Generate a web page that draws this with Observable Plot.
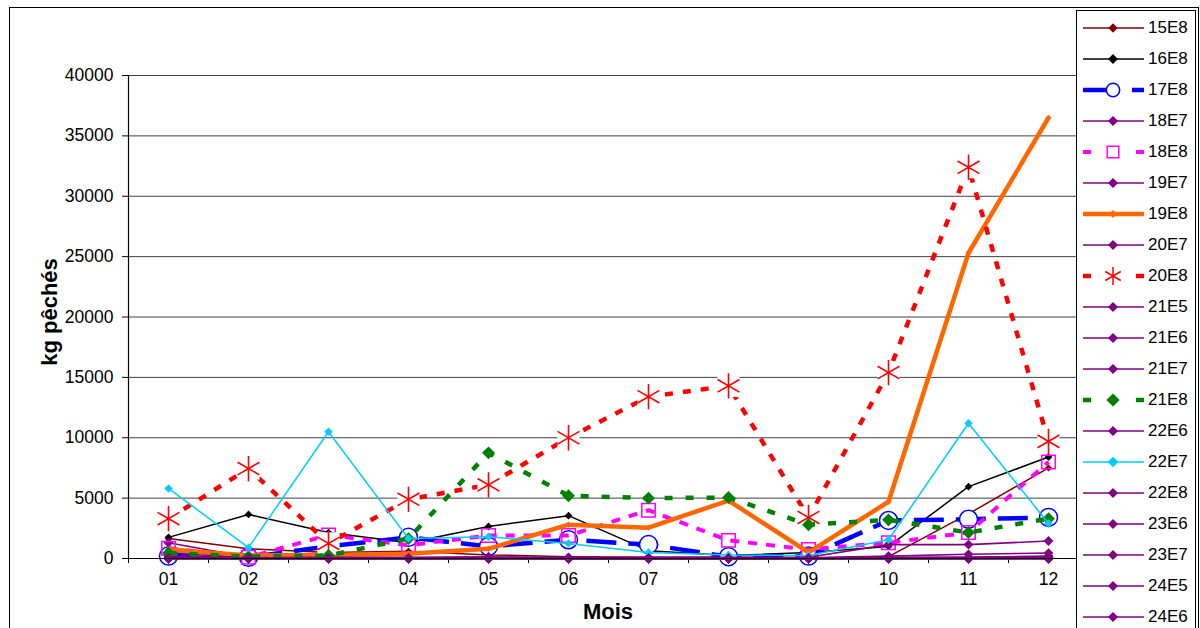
<!DOCTYPE html>
<html>
<head>
<meta charset="utf-8">
<script src="https://cdn.jsdelivr.net/npm/d3@7"></script>
<script src="https://cdn.jsdelivr.net/npm/@observablehq/plot@0.6"></script>
<style>
  body { margin: 0; background: #fff; }
  #wrap { position: relative; width: 1200px; height: 628px; overflow: hidden; background: #fff; font-family: "Liberation Sans", Arial, sans-serif; }
  #plot { position: absolute; left: 0; top: 0; }
  #frame { position: absolute; left: 9px; top: 7px; width: 1188px; height: 700px; border: 1px solid #000; pointer-events: none; }
  #legend { position: absolute; left: 1076px; top: 10px; width: 118px; height: 700px; border: 1px solid #000; background: #fff; }
  .lg-row { position: absolute; left: 0; height: 20px; width: 118px; }
  .lg-row svg { position: absolute; left: 0; top: 0; }
  .lg-row span { position: absolute; left: 71px; top: 0; font-size: 17px; line-height: 20px; color: #000; }
  #ylab { position: absolute; left: 50px; top: 312px; transform: translate(-50%, -50%) rotate(-90deg); font-size: 22px; font-weight: bold; white-space: nowrap; }
  #xlab { position: absolute; left: 608px; top: 612px; transform: translate(-50%, -50%); font-size: 22px; font-weight: bold; }
</style>
</head>
<body>
<div id="wrap">
  <div id="plot"></div>
  <div id="frame"></div>
  <div id="ylab">kg pêchés</div>
  <div id="xlab">Mois</div>
  <div id="legend"></div>
</div>
<script>
// ---- categories and tick labels ----
const months = ["01","02","03","04","05","06","07","08","09","10","11","12"];
const yTicks = [0, 5000, 10000, 15000, 20000, 25000, 30000, 35000, 40000];

// ---- series values (kg pêchés per month) ----
const s15E8 = [1650, 800, 500, 600, 300, 150, 100, 100, 50, 150, 3700, 7500];
const s16E8 = [1750, 3650, 2150, 1300, 2650, 3550, 650, 250, 500, 1000, 5950, 8400];
const s17E8 = [200, 100, 1000, 1750, 1000, 1550, 1150, 150, 200, 3150, 3250, 3400];
const s18E7 = [1300, 100, 50, 50, 150, 0, 0, 0, 0, 100, 100, 150];
const s18E8 = [850, 100, 1950, 1100, 1900, 1900, 4000, 1500, 750, 1300, 2150, 8000];
const s19E7 = [200, 100, 100, 100, 100, 100, 100, 100, 100, 1150, 1150, 1450];
const s19E8 = [750, 250, 300, 400, 800, 2800, 2550, 4800, 500, 4700, 25300, 36500];
const s20E7 = [100, 50, 100, 50, 50, 0, 0, 0, 50, 200, 350, 450];
const s20E8 = [3300, 7450, 1250, 4900, 6100, 10000, 13400, 14300, 3400, 15400, 32400, 9700];
const s21E5 = [0, 0, 0, 0, 0, 0, 0, 0, 0, 0, 0, 0];
const s21E6 = [500, 0, 0, 0, 0, 0, 0, 0, 0, 0, 50, 100];
const s21E7 = [50, 0, 0, 0, 0, 0, 0, 0, 0, 0, 0, 50];
const s21E8 = [450, 150, 250, 1650, 8750, 5200, 5000, 5050, 2800, 3200, 2150, 3300];
const s22E6 = [0, 0, 0, 0, 0, 0, 0, 0, 0, 0, 0, 0];
const s22E7 = [5800, 900, 10500, 1650, 1800, 1250, 500, 300, 250, 1550, 11200, 2900];
const s22E8 = [0, 0, 0, 0, 0, 0, 0, 0, 0, 50, 100, 200];
const s23E6 = [0, 0, 0, 0, 0, 0, 0, 0, 0, 0, 0, 0];
const s23E7 = [0, 0, 0, 0, 0, 0, 0, 0, 0, 0, 0, 0];
const s24E5 = [0, 0, 0, 0, 0, 0, 0, 0, 0, 0, 0, 0];
const s24E6 = [0, 0, 0, 0, 0, 0, 0, 0, 0, 0, 0, 0];

// ---- series styling table built from the arrays above ----
const PURPLE = "#800080";
const purple = (name, values) => ({name, values, color: PURPLE, width: 1.6, dash: null, symbol: "diamond2", r: 4.4, fill: PURPLE, stroke: "none"});
const series = [
  {name: "15E8", values: s15E8, color: "#800000", width: 1.5, dash: null, symbol: "diamond2", r: 3.3, fill: "#800000", stroke: "none"},
  {name: "16E8", values: s16E8, color: "#000000", width: 1.5, dash: null, symbol: "diamond2", r: 3.5, fill: "#000000", stroke: "none"},
  {name: "17E8", values: s17E8, color: "#0000FF", width: 4.5, dash: "30 12", legendDash: "30 19 12", symbol: "circle", r: 9, fill: "#ffffff", stroke: "#0000FF"},
  purple("18E7", s18E7),
  {name: "18E8", values: s18E8, color: "#FF00FF", width: 4, dash: "9 9", legendDash: "8 45 8", symbol: "square", r: 7.6, fill: "none", stroke: "#FF00FF"},
  purple("19E7", s19E7),
  {name: "19E8", values: s19E8, color: "#FF6600", width: 4.5, dash: null, symbol: "diamond2", r: 2.8, fill: "#FF6600", stroke: "none"},
  purple("20E7", s20E7),
  {name: "20E8", values: s20E8, color: "#FF0000", width: 4.5, dash: "8 10", legendDash: "8 45 8", symbol: "asterisk", r: 12, fill: "none", stroke: "#FF0000", halo: true},
  purple("21E5", s21E5),
  purple("21E6", s21E6),
  purple("21E7", s21E7),
  {name: "21E8", values: s21E8, color: "#008000", width: 4.5, dash: "8 13", legendDash: "8 45 8", symbol: "diamond2", r: 5.8, fill: "#008000", stroke: "none"},
  purple("22E6", s22E6),
  {name: "22E7", values: s22E7, color: "#00CCFF", width: 1.5, dash: null, symbol: "diamond2", r: 3.8, fill: "#00CCFF", stroke: "none"},
  purple("22E8", s22E8),
  purple("23E6", s23E6),
  purple("23E7", s23E7),
  purple("24E5", s24E5),
  purple("24E6", s24E6)
];

const rowsOf = s => s.values.map((v, i) => ({m: i + 1, v, s: s.name}));

const marks = [
  Plot.ruleY(yTicks.filter(d => d > 0), {stroke: "#000", strokeWidth: 1, strokeOpacity: 0.75}),
  Plot.axisY({ticks: yTicks, tickFormat: d => String(d), tickSize: 6, tickPadding: 9, label: null, stroke: "#000"}),
  Plot.axisX({ticks: d3.range(0.5, 12, 1), tickFormat: () => "", tickSize: 5, label: null, stroke: "#000"}),
  Plot.axisX({ticks: d3.range(1, 13), tickFormat: i => months[i - 1], tickSize: 0, tickPadding: 14, label: null})
];
for (const s of series) {
  const rows = rowsOf(s);
  marks.push(Plot.line(rows, {x: "m", y: "v", stroke: s.color, strokeWidth: s.width, strokeDasharray: s.dash, strokeLinejoin: "round", strokeLinecap: "butt"}));
  if (s.halo) marks.push(Plot.dot(rows, {x: "m", y: "v", symbol: "square", r: 12.5, fill: "#ffffff", stroke: "none"}));
  marks.push(Plot.dot(rows, {x: "m", y: "v", symbol: s.symbol, r: s.r, fill: s.fill, stroke: s.stroke, strokeWidth: s.symbol === "asterisk" ? 1.6 : 1.5}));
}
marks.push(Plot.ruleY([0], {stroke: "#000", strokeWidth: 1.2}));
marks.push(Plot.ruleX([0.5], {y1: 0, y2: 40000, stroke: "#000", strokeWidth: 1.2}));

const chart = Plot.plot({
  width: 1200,
  height: 628,
  marginLeft: 128,
  marginRight: 112,
  marginTop: 75,
  marginBottom: 70,
  x: {type: "linear", domain: [0.5, 12.5]},
  y: {domain: [0, 40000]},
  style: {fontSize: "17.5px", fontFamily: "'Liberation Sans', Arial, sans-serif", color: "#000", background: "transparent"},
  marks
});
document.getElementById("plot").append(chart);

// ---- legend ----
const legend = d3.select("#legend");
const symType = {diamond2: d3.symbolDiamond2, circle: d3.symbolCircle, square: d3.symbolSquare, asterisk: d3.symbolAsterisk};
series.forEach((s, i) => {
  const row = legend.append("div").attr("class", "lg-row").style("top", (7 + i * 31) + "px");
  const svg = row.append("svg").attr("width", 70).attr("height", 20);
  svg.append("line").attr("x1", 6).attr("x2", 67).attr("y1", 10).attr("y2", 10)
    .attr("stroke", s.color).attr("stroke-width", s.width > 2 ? s.width : 1.3)
    .attr("stroke-dasharray", s.legendDash || null);
  const size = Math.PI * s.r * s.r * (s.symbol === "asterisk" ? 0.5 : s.symbol === "circle" ? 0.55 : s.symbol === "square" ? 0.75 : (s.r < 4 ? 1.6 : 1.05));
  svg.append("path").attr("transform", "translate(36,10)")
    .attr("d", d3.symbol(symType[s.symbol], size)())
    .attr("fill", s.fill).attr("stroke", s.stroke === "none" ? null : s.stroke)
    .attr("stroke-width", 1.5);
  row.append("span").text(s.name);
});
</script>
</body>
</html>
